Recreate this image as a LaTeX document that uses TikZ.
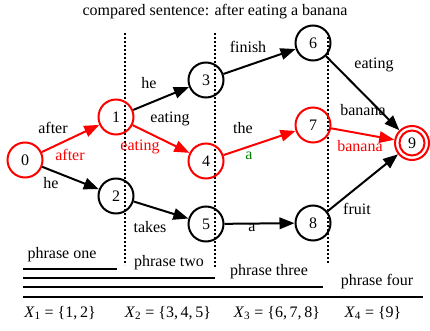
\documentclass[tikz,border=0pt]{standalone}
\usepackage{fontspec}
\setmainfont{Liberation Serif}
\newfontfamily\lserif{Liberation Serif}
\usetikzlibrary{arrows.meta}
\begin{document}
\begin{tikzpicture}[x=1pt,y=-1pt,
 st/.style={circle,draw,line width=2pt,minimum size=35pt,inner sep=0pt,font=\lserif\fontsize{16}{18}\selectfont},
 rd/.style={draw=red},
 lbl/.style={inner sep=0pt,font=\lserif\fontsize{16}{18}\selectfont},
 ed/.style={line width=2pt,-{Triangle[length=15pt,width=11.5pt]}},
 dots/.style={line width=2pt,dash pattern=on 1.8pt off 2.2pt},
 bar/.style={line width=2.5pt}]
\useasboundingbox (0,0) rectangle (430,331);
\node[lbl] (title) at (215,12) {compared sentence: after eating a banana};
% dotted separators
\draw[dots] (125,33) -- (125,265);
\draw[dots] (215,33) -- (215,267);
\draw[dots] (328,33) -- (328,264);
% states
\node[st,rd] (n0) at (25,160) {0};
\node[st,rd] (n1) at (116,117) {1};
\node[st] (n2) at (116,196) {2};
\node[st] (n3) at (206,80) {3};
\node[st,rd] (n4) at (206,161) {4};
\node[st] (n5) at (206,224) {5};
\node[st] (n6) at (313,43) {6};
\node[st,rd] (n7) at (313,125) {7};
\node[st] (n8) at (313,223) {8};
\node[circle,draw=red,line width=2pt,minimum size=34pt,inner sep=0pt] (n9) at (412,143) {};
\node[st,rd,minimum size=25pt] (n9i) at (412,143) {9};
% edges
\draw[ed,red] (n0) -- (n1);
\draw[ed] (n0) -- (n2);
\draw[ed] (n1) -- (n3);
\draw[ed,red] (n1) -- (n4);
\draw[ed] (n2) -- (n5);
\draw[ed] (n3) -- (n6);
\draw[ed,red] (n4) -- (n7);
\draw[ed] (n5) -- (n8);
\draw[ed] (n6) -- (n9);
\draw[ed,red] (n7) -- (n9);
\draw[ed] (n8) -- (n9);
% edge labels
\node[lbl] (l01) at (53,128) {after};
\node[lbl,red] (l01r) at (70,155) {after};
\node[lbl] (l02) at (51,183) {he};
\node[lbl] (l13) at (149,83) {he};
\node[lbl] (l14) at (170,119) {eating};
\node[lbl,red] (l14r) at (140,147) {eating};
\node[lbl] (l25) at (150,227) {takes};
\node[lbl] (l36) at (248,47) {finish};
\node[lbl] (l47) at (243,128) {the};
\node[lbl,green!50!black] (l47g) at (249,156) {a};
\node[lbl] (l58) at (252,228) {a};
\node[lbl] (l69) at (374,65) {eating};
\node[lbl] (l79) at (363,110) {banana};
\node[lbl,red] (l79r) at (360,146) {banana};
\node[lbl] (l89) at (357,209) {fruit};
% phrase bars
\draw[bar] (23,269) -- (117,269);
\draw[bar] (23,278) -- (215,278);
\draw[bar] (23,287) -- (323,287);
\draw[bar] (23,297) -- (423,297);
\node[lbl] (p1) at (62,255) {phrase one};
\node[lbl] (p2) at (169,263) {phrase two};
\node[lbl] (p3) at (269,272) {phrase three};
\node[lbl] (p4) at (377,282) {phrase four};
% sets
\node[lbl] (x1) at (60,313) {\textit{X}\textsubscript{1} = \{1,\,2\}};
\node[lbl] (x2) at (168,313) {\textit{X}\textsubscript{2} = \{3,\,4,\,5\}};
\node[lbl] (x3) at (277,313) {\textit{X}\textsubscript{3} = \{6,\,7,\,8\}};
\node[lbl] (x4) at (373,313) {\textit{X}\textsubscript{4} = \{9\}};
\end{tikzpicture}
\end{document}
